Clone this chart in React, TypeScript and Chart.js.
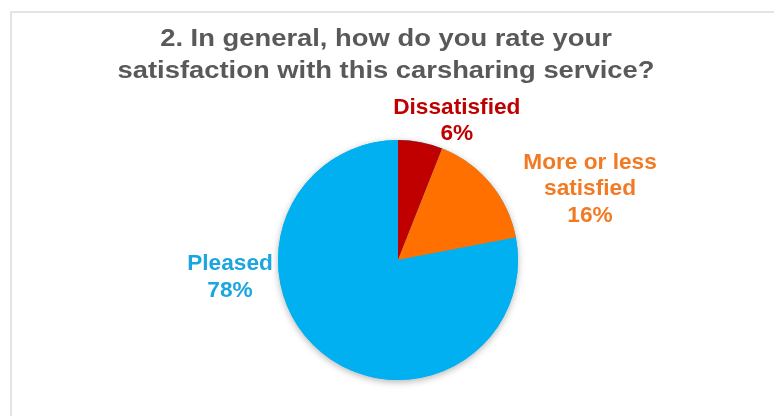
import React, { useEffect, useRef } from "react";
import { Chart, registerables } from "chart.js";

Chart.register(...registerables);

// ---- data ----
const titleLines = [
  "2. In general, how do you rate your",
  "satisfaction with this carsharing service?",
];
const categories = ["Dissatisfied", "More or less satisfied", "Pleased"];
const labelLines = [["Dissatisfied"], ["More or less", "satisfied"], ["Pleased"]];
const values = [6, 16, 78];

// ---- styles ----
const sliceColors = ["#C00000", "#FF7000", "#00B0F0"];
const labelColors = ["#C00000", "#F27A22", "#1CA6E0"];
// label block centre, as offset from the pie centre in units of the pie radius
const labelOffsets = [
  [0.49, -1.16],
  [1.6, -0.59],
  [-1.4, 0.146],
];

const W = 774;
const H = 416;

function drawScaledText(
  ctx: CanvasRenderingContext2D,
  text: string,
  x: number,
  y: number,
  sx: number
) {
  ctx.save();
  ctx.translate(x, y);
  ctx.scale(sx, 1);
  ctx.fillText(text, 0, 0);
  ctx.restore();
}

const decorPlugin = {
  id: "decor",
  beforeDraw(chart: any) {
    const ctx = chart.ctx as CanvasRenderingContext2D;
    ctx.save();
    ctx.fillStyle = "#ffffff";
    ctx.fillRect(0, 0, chart.width, chart.height);
    // slide frame
    ctx.strokeStyle = "#dcdcdc";
    ctx.lineWidth = 1.5;
    ctx.beginPath();
    ctx.moveTo(11, chart.height);
    ctx.lineTo(11, 12);
    ctx.lineTo(chart.width, 12);
    ctx.stroke();
    // title
    ctx.fillStyle = "#595959";
    ctx.font = "bold 23px 'Liberation Sans', Arial, sans-serif";
    ctx.textAlign = "center";
    ctx.textBaseline = "middle";
    titleLines.forEach((t, i) => drawScaledText(ctx, t, 386, 40 + i * 32, 1.19));
    ctx.restore();
  },
  beforeDatasetsDraw(chart: any) {
    const meta = chart.getDatasetMeta(0);
    const arc = meta.data[0];
    if (!arc) return;
    const { x, y, outerRadius } = arc.getProps(["x", "y", "outerRadius"], true);
    const ctx = chart.ctx as CanvasRenderingContext2D;
    ctx.save();
    ctx.shadowColor = "rgba(0,0,0,0.30)";
    ctx.shadowBlur = 7;
    ctx.shadowOffsetX = 0;
    ctx.shadowOffsetY = 2;
    ctx.fillStyle = sliceColors[2];
    ctx.beginPath();
    ctx.arc(x, y, outerRadius, 0, Math.PI * 2);
    ctx.fill();
    ctx.restore();
  },
  afterDatasetsDraw(chart: any) {
    const meta = chart.getDatasetMeta(0);
    const ctx = chart.ctx as CanvasRenderingContext2D;
    ctx.save();
    ctx.font = "bold 22px 'Liberation Sans', Arial, sans-serif";
    ctx.textAlign = "center";
    ctx.textBaseline = "middle";
    const lh = 26.5;
    meta.data.forEach((arc: any, i: number) => {
      const { x, y, outerRadius } = arc.getProps(["x", "y", "outerRadius"], true);
      const cx = x + labelOffsets[i][0] * outerRadius;
      const cy = y + labelOffsets[i][1] * outerRadius;
      const lines = [...labelLines[i], `${values[i]}%`];
      const y0 = cy - ((lines.length - 1) * lh) / 2;
      ctx.fillStyle = labelColors[i];
      lines.forEach((t, k) => drawScaledText(ctx, t, cx, y0 + k * lh, 1.03));
    });
    ctx.restore();
  },
};

export default function App() {
  const ref = useRef<HTMLCanvasElement | null>(null);
  useEffect(() => {
    if (!ref.current) return;
    const chart = new Chart(ref.current, {
      type: "pie",
      data: {
        labels: categories,
        datasets: [
          {
            data: values,
            backgroundColor: sliceColors,
            borderWidth: 0,
          },
        ],
      },
      options: {
        responsive: false,
        animation: false,
        devicePixelRatio: 1,
        layout: { padding: { top: 140, bottom: 36, left: 22, right: 0 } },
        plugins: {
          legend: { display: false },
          title: { display: false },
          tooltip: { enabled: false },
        },
      },
      plugins: [decorPlugin],
    });
    return () => chart.destroy();
  }, []);
  return (
    <div style={{ position: "fixed", left: 0, top: 0, width: W, height: H, background: "#fff" }}>
      <canvas ref={ref} width={W} height={H} style={{ display: "block" }} />
    </div>
  );
}
